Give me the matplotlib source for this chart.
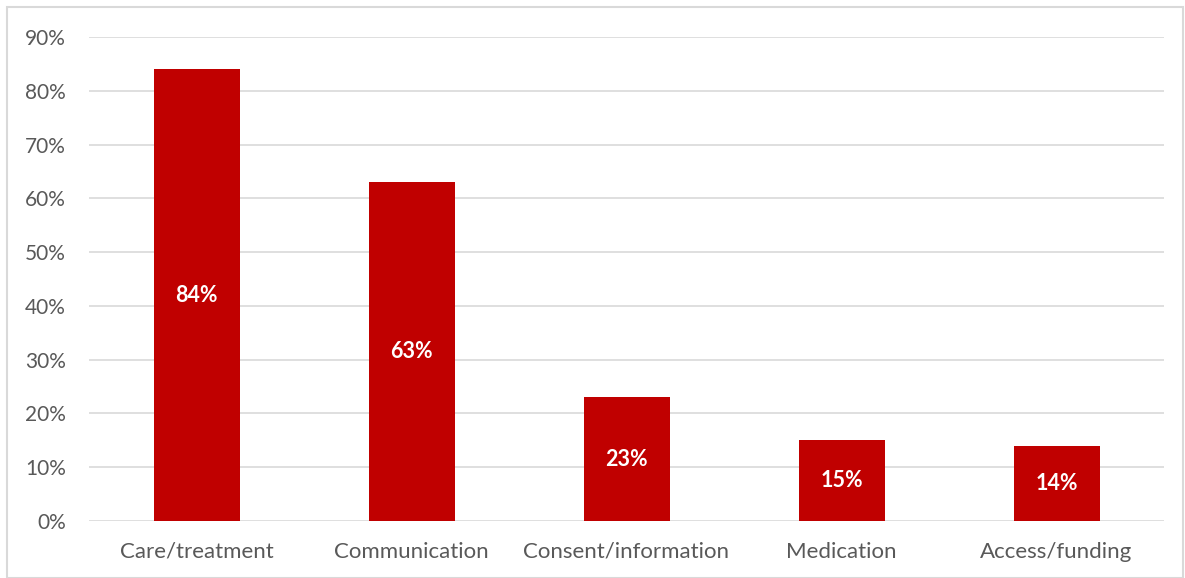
import matplotlib
matplotlib.use("Agg")
import matplotlib.pyplot as plt
from matplotlib.patches import Rectangle

categories = ["Care/treatment", "Communication", "Consent/information", "Medication", "Access/funding"]
values = [84, 63, 23, 15, 14]
yticks = [0, 10, 20, 30, 40, 50, 60, 70, 80, 90]

W, H = 1185, 578
fig = plt.figure(figsize=(W/100, H/100), dpi=100)
plt.rcParams['font.family'] = ['Lato', 'DejaVu Sans']

fig.patches.append(Rectangle((7/W, 0), (1183-7)/W, (H-7)/H, transform=fig.transFigure,
                             fill=False, edgecolor='#D9D9D9', linewidth=1.5))

ax = fig.add_axes([89/W, 1-521/H, (1164-89)/W, (521-37)/H])
x = list(range(len(categories)))
bars = ax.bar(x, values, width=0.4, color='#C00000', zorder=3)
for xi, v in zip(x, values):
    ax.text(xi, v/2, f"{v}%", ha='center', va='center', color='white',
            fontsize=15.5, fontweight='bold', zorder=4)

ax.set_xlim(-0.5, len(categories)-0.5)
ax.set_ylim(0, 90)
ax.set_yticks(yticks)
ax.set_yticklabels([f"{t}%" for t in yticks])
ax.set_xticks(x)
ax.set_xticklabels(categories)
ax.yaxis.grid(True, color='#D9D9D9', linewidth=1.2, zorder=0)
for s in ax.spines.values():
    s.set_visible(False)
ax.tick_params(axis='both', length=0, colors='#595959')
ax.tick_params(axis='y', pad=16.5, labelsize=15)
ax.tick_params(axis='x', pad=15, labelsize=16)

fig.savefig("out.png", dpi=100)
